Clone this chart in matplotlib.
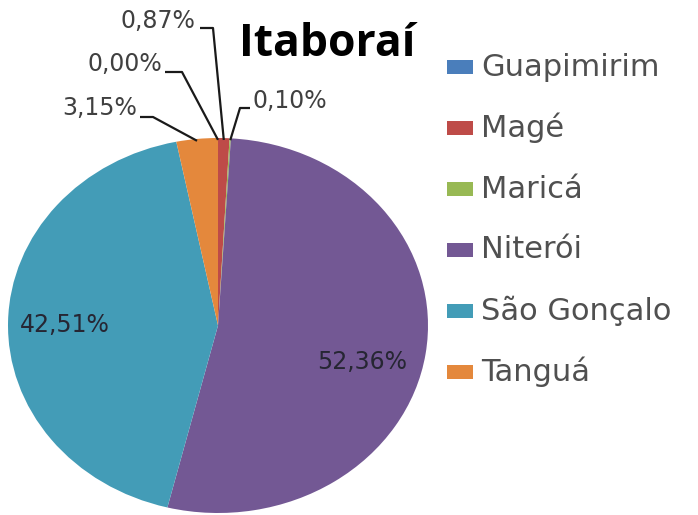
import numpy as np
import matplotlib.pyplot as plt
from matplotlib.patches import Rectangle

# Data
municipios = ["Guapimirim", "Magé", "Maricá", "Niterói", "São Gonçalo", "Tanguá"]
percentuais = [0.00, 0.87, 0.10, 52.36, 42.51, 3.15]
cores = ["#4a7ebb", "#be4b48", "#98b954", "#735894", "#439cb7", "#e4883c"]
titulo = "Itaboraí"

W, H = 698, 515
fig = plt.figure(figsize=(W / 100, H / 100), dpi=100)
ax = fig.add_axes([8 / W, 2 / H, 420 / W, 375 / H])

wedges, _ = ax.pie(percentuais, colors=cores, startangle=90, counterclock=False,
                   wedgeprops=dict(linewidth=0))
ax.set_aspect("auto")
ax.set_xlim(-1, 1)
ax.set_ylim(-1, 1)
ax.axis("off")


def px(x, y):
    # pixel position (from top-left) -> data coords
    return ax.transData.inverted().transform((x, H - y))


def fmt(v):
    return f"{v:.2f}%".replace(".", ",")


# labels inside the big slices
dentro = {"Niterói": (362, 362), "São Gonçalo": (65, 325)}
for nome, (x, y) in dentro.items():
    v = percentuais[municipios.index(nome)]
    ax.text(*px(x, y), fmt(v), ha="center", va="center", fontsize=17,
            color="#262633")

# small slices: label position, then start and elbow of the leader line
fora = {
    "Magé": (195, 21, "right", (200, 28), (213, 28)),
    "Guapimirim": (162, 64, "right", (165, 72), (182, 72)),
    "Tanguá": (137, 108, "right", (140, 117), (153, 117)),
    "Maricá": (253, 101, "left", (250, 108), (240, 108)),
}
for nome, (x, y, ha, p0, p1) in fora.items():
    i = municipios.index(nome)
    w = wedges[i]
    ang = np.deg2rad((w.theta1 + w.theta2) / 2)
    a = px(*p0)
    b = px(*p1)
    ax.plot([a[0], b[0], np.cos(ang)], [a[1], b[1], np.sin(ang) * 0.99],
            color="#1a1a1a", lw=1.6, clip_on=False, solid_capstyle="butt")
    ax.text(*px(x, y), fmt(percentuais[i]), ha=ha, va="center", fontsize=17,
            color="#404040")

fig.text(327 / W, 1 - 44 / H, titulo, ha="center", va="center", fontsize=32,
         fontweight="bold", family="Open Sans", color="black")

# legend
y0, passo = 67, 61
for k, (nome, cor) in enumerate(zip(municipios, cores)):
    yc = y0 + k * passo
    fig.patches.append(Rectangle((447 / W, 1 - (yc + 7) / H), 26 / W, 14 / H,
                                 transform=fig.transFigure, facecolor=cor,
                                 edgecolor="none"))
    fig.text(481 / W, 1 - yc / H, nome, ha="left", va="center", fontsize=22,
             color="#505050")

fig.savefig("out.png", dpi=100)
